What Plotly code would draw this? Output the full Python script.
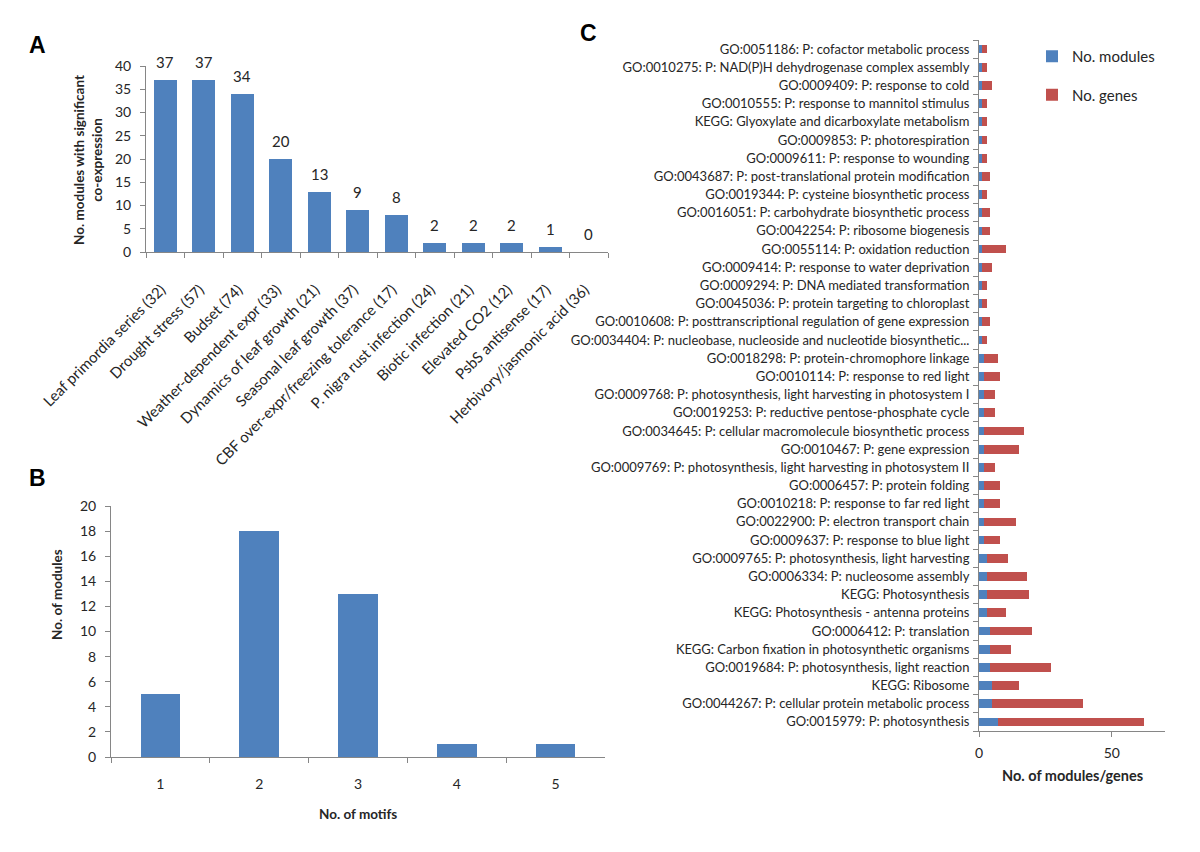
import plotly.graph_objects as go

# ---------------- Panel A data ----------------
a_categories = ["Leaf primordia series (32)", "Drought stress (57)", "Budset (74)",
                "Weather-dependent expr (33)", "Dynamics of leaf growth (21)",
                "Seasonal leaf growth (37)", "CBF over-expr/freezing tolerance (17)",
                "P. nigra rust infection (24)", "Biotic infection (21)",
                "Elevated CO2 (12)", "PsbS antisense (17)", "Herbivory/jasmonic acid (36)"]
a_values = [37, 37, 34, 20, 13, 9, 8, 2, 2, 2, 1, 0]

# ---------------- Panel B data ----------------
b_categories = ["1", "2", "3", "4", "5"]
b_values = [5, 18, 13, 1, 1]

# ---------------- Panel C data (bottom to top) ----------------
c_terms = [
    "GO:0015979: P: photosynthesis",
    "GO:0044267: P: cellular protein metabolic process",
    "KEGG: Ribosome",
    "GO:0019684: P: photosynthesis, light reaction",
    "KEGG: Carbon fixation in photosynthetic organisms",
    "GO:0006412: P: translation",
    "KEGG: Photosynthesis - antenna proteins",
    "KEGG: Photosynthesis",
    "GO:0006334: P: nucleosome assembly",
    "GO:0009765: P: photosynthesis, light harvesting",
    "GO:0009637: P: response to blue light",
    "GO:0022900: P: electron transport chain",
    "GO:0010218: P: response to far red light",
    "GO:0006457: P: protein folding",
    "GO:0009769: P: photosynthesis, light harvesting in photosystem II",
    "GO:0010467: P: gene expression",
    "GO:0034645: P: cellular macromolecule biosynthetic process",
    "GO:0019253: P: reductive pentose-phosphate cycle",
    "GO:0009768: P: photosynthesis, light harvesting in photosystem I",
    "GO:0010114: P: response to red light",
    "GO:0018298: P: protein-chromophore linkage",
    "GO:0034404: P: nucleobase, nucleoside and nucleotide biosynthetic...",
    "GO:0010608: P: posttranscriptional regulation of gene expression",
    "GO:0045036: P: protein targeting to chloroplast",
    "GO:0009294: P: DNA mediated transformation",
    "GO:0009414: P: response to water deprivation",
    "GO:0055114: P: oxidation reduction",
    "GO:0042254: P: ribosome biogenesis",
    "GO:0016051: P: carbohydrate biosynthetic process",
    "GO:0019344: P: cysteine biosynthetic process",
    "GO:0043687: P: post-translational protein modification",
    "GO:0009611: P: response to wounding",
    "GO:0009853: P: photorespiration",
    "KEGG: Glyoxylate and dicarboxylate metabolism",
    "GO:0010555: P: response to mannitol stimulus",
    "GO:0009409: P: response to cold",
    "GO:0010275: P: NAD(P)H dehydrogenase complex assembly",
    "GO:0051186: P: cofactor metabolic process",
]
c_modules = [7, 5, 5, 4, 4, 4, 3, 3, 3, 3, 2, 2, 2, 2, 2, 2, 2, 2, 2, 2, 2,
             1, 1, 1, 1, 1, 1, 1, 1, 1, 1, 1, 1, 1, 1, 1, 1, 1]
c_genes = [55, 34, 10, 23, 8, 16, 7, 16, 15, 8, 6, 12, 6, 6, 4, 13, 15, 4, 4, 6, 5,
           2, 3, 2, 2, 4, 9, 3, 3, 2, 3, 2, 2, 2, 2, 4, 2, 2]

BLUE = "#4F81BD"
RED = "#C0504D"
AXIS = "#868686"
TXT = "#262626"
FONT = "Lato"

W, H = 1200, 852
def fx(px): return px / W
def fy(py): return 1 - py / H

fig = go.Figure()

fig.add_trace(go.Bar(x=a_categories, y=a_values, marker_color=BLUE, width=0.6,
                     xaxis="x", yaxis="y", showlegend=False))
fig.add_trace(go.Bar(x=b_categories, y=b_values, marker_color=BLUE, width=0.4,
                     xaxis="x2", yaxis="y2", showlegend=False))
fig.add_trace(go.Bar(y=c_terms, x=c_modules, orientation="h", marker_color=BLUE,
                     width=0.48, name="No. modules", xaxis="x3", yaxis="y3",
                     legendgroup="m"))
fig.add_trace(go.Bar(y=c_terms, x=c_genes, orientation="h", marker_color=RED,
                     width=0.48, name="No. genes", xaxis="x3", yaxis="y3",
                     legendgroup="g"))

def ax(size=13.5, **kw):
    d = dict(showline=True, linecolor=AXIS, linewidth=1, showgrid=False,
             zeroline=False, ticks="outside", tickcolor=AXIS, ticklen=5,
             automargin=False, tickfont=dict(family=FONT, size=size, color=TXT))
    d.update(kw)
    return d

fig.update_layout(
    template="none",
    width=W, height=H, margin=dict(l=0, r=0, t=0, b=0, pad=0, autoexpand=False),
    paper_bgcolor="white", plot_bgcolor="white",
    barmode="stack", bargap=0.4,
    font=dict(family=FONT, color=TXT),
    xaxis=ax(15, domain=[fx(146), fx(608)], anchor="y", type="category",
             tickangle=-45, tickson="boundaries", ticklabelstandoff=22,
             ticklabelshift=-4),
    yaxis=ax(14, domain=[fy(252), fy(66)], anchor="x", range=[0, 40], dtick=5,
             ticklabelstandoff=6),
    xaxis2=ax(14, domain=[fx(111), fx(605)], anchor="y2", type="category",
              tickson="boundaries", ticklabelstandoff=14),
    yaxis2=ax(14, domain=[fy(757), fy(506)], anchor="x2", range=[0, 20], dtick=2,
              ticklabelstandoff=6),
    xaxis3=ax(14, domain=[fx(979), fx(1165)], anchor="y3", range=[0, 70], dtick=50,
              ticklabelstandoff=4),
    yaxis3=ax(13, domain=[fy(731), fy(40)], anchor="x3", type="category",
              categoryorder="array", categoryarray=c_terms,
              range=[-0.5, len(c_terms) - 0.5],
              tickson="boundaries", ticklabelstandoff=6),
    legend=dict(x=fx(1032), y=fy(40), xanchor="left", yanchor="top",
                font=dict(family=FONT, size=15, color=TXT), tracegroupgap=16,
                itemwidth=30, bgcolor="rgba(0,0,0,0)"),
)

annotations = []
# data labels panel A
for c, v in zip(a_categories, a_values):
    annotations.append(dict(x=c, y=v, xref="x", yref="y", text=str(v), showarrow=False,
                            yanchor="bottom", yshift=7,
                            font=dict(family=FONT, size=15, color=TXT)))
# panel letters
for letter, x, y in [("A", 37, 45), ("B", 37, 478), ("C", 588, 33)]:
    annotations.append(dict(x=fx(x), y=fy(y), xref="paper", yref="paper", text=f"<b>{letter}</b>",
                            showarrow=False, xanchor="center", yanchor="middle",
                            font=dict(family="Liberation Sans", size=23, color="black")))
# axis titles
annotations += [
    dict(x=fx(88), y=fy(160), xref="paper", yref="paper", textangle=-90,
         text="<b>No. modules with significant<br>co-expression</b>", showarrow=False,
         font=dict(family=FONT, size=13.5, color=TXT), xanchor="center", yanchor="middle"),
    dict(x=fx(57), y=fy(595), xref="paper", yref="paper", textangle=-90,
         text="<b>No. of modules</b>", showarrow=False,
         font=dict(family=FONT, size=13.5, color=TXT), xanchor="center", yanchor="middle"),
    dict(x=fx(358), y=fy(814), xref="paper", yref="paper",
         text="<b>No. of motifs</b>", showarrow=False,
         font=dict(family=FONT, size=13.5, color=TXT), xanchor="center", yanchor="middle"),
    dict(x=fx(1072), y=fy(775), xref="paper", yref="paper",
         text="<b>No. of modules/genes</b>", showarrow=False,
         font=dict(family=FONT, size=14.5, color=TXT), xanchor="center", yanchor="middle"),
]
fig.update_layout(annotations=annotations)

fig.write_html("out.html", config={"displayModeBar": False},
               post_script="document.body.style.margin='0';document.body.style.overflow='hidden';")
